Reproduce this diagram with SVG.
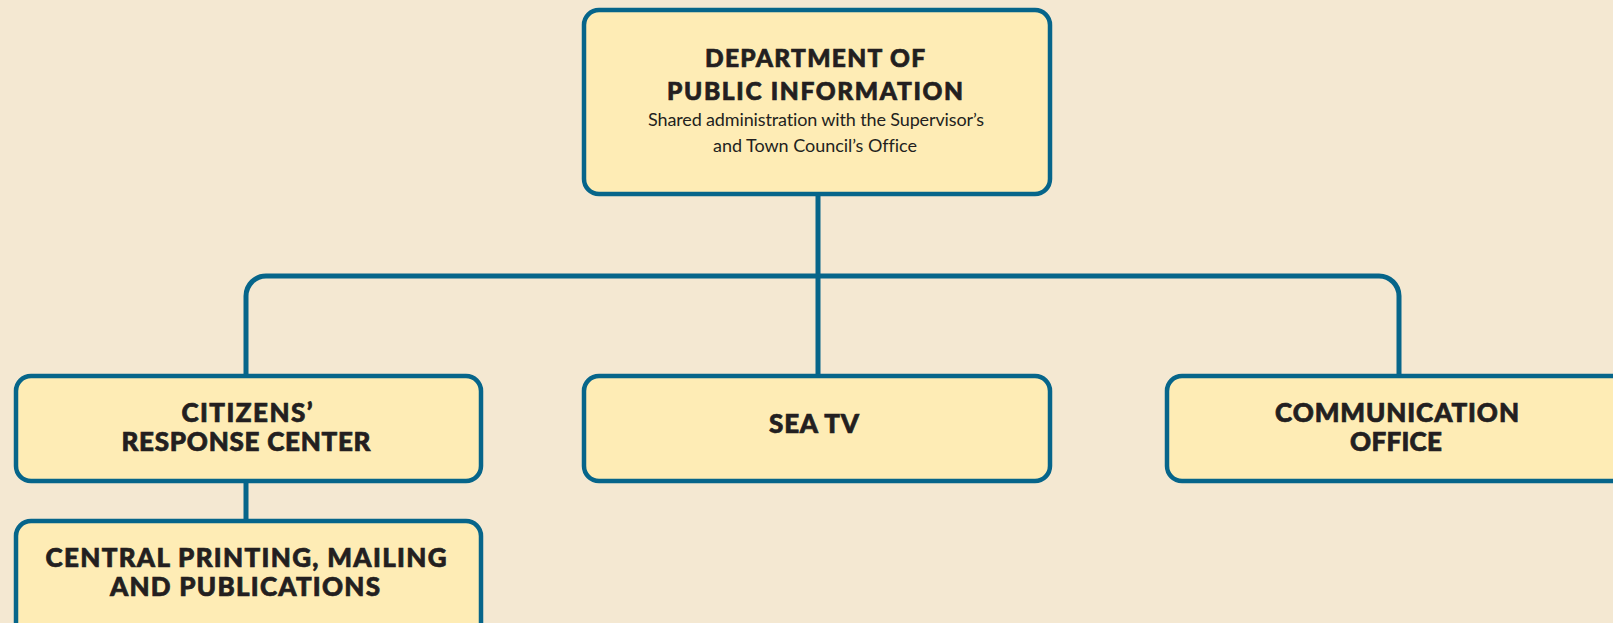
<svg xmlns="http://www.w3.org/2000/svg" width="1613" height="623" viewBox="0 0 1613 623">
  <style>
    .box { fill: #FEECB5; stroke: #06658A; stroke-width: 4.5; }
    .link { fill: none; stroke: #06658A; stroke-width: 5; }
    .title { font-family: Lato, "Liberation Sans", Arial, sans-serif; font-weight: 900; font-size: 26px; fill: #231F20; stroke: #231F20; stroke-width: 0.7; text-anchor: middle; font-variant-ligatures: none; }
    .top { font-size: 24.5px; }
    .sub { font-family: Lato, "Liberation Sans", Arial, sans-serif; font-size: 18px; fill: #231F20; text-anchor: middle; font-variant-ligatures: none; }
  </style>
  <rect width="1613" height="623" fill="#F4E8D2"/>

  <!-- connectors, drawn beneath the boxes -->
  <g id="connectors">
    <path class="link" d="M818,194 V374"/>
    <path class="link" d="M246,374 V296 A20,20 0 0 1 266,276 H1379 A20,20 0 0 1 1399,296 V374"/>
    <path class="link" d="M246,483 V519"/>
  </g>

  <g id="dept-public-information">
    <rect class="box" x="584" y="10" width="466" height="184" rx="15"/>
    <text class="title top" x="815" y="67" textLength="220">DEPARTMENT OF</text>
    <text class="title top" x="815" y="100" textLength="296">PUBLIC INFORMATION</text>
    <text class="sub" x="816" y="126" textLength="336">Shared administration with the Supervisor’s</text>
    <text class="sub" x="815" y="152" textLength="204">and Town Council’s Office</text>
  </g>

  <g id="citizens-response-center">
    <rect class="box" x="16" y="376" width="465" height="105" rx="15"/>
    <text class="title" x="247" y="422" textLength="131">CITIZENS’</text>
    <text class="title" x="246" y="451" textLength="249">RESPONSE CENTER</text>
  </g>

  <g id="sea-tv">
    <rect class="box" x="584" y="376" width="466" height="105" rx="15"/>
    <text class="title" x="814" y="433" textLength="90">SEA TV</text>
  </g>

  <g id="communication-office">
    <rect class="box" x="1167" y="376" width="466" height="105" rx="15"/>
    <text class="title" x="1397" y="422" textLength="244">COMMUNICATION</text>
    <text class="title" x="1396" y="451" textLength="92">OFFICE</text>
  </g>

  <g id="central-printing">
    <rect class="box" x="16" y="521" width="465" height="120" rx="15"/>
    <text class="title" x="246" y="567" textLength="401">CENTRAL PRINTING, MAILING</text>
    <text class="title" x="245" y="596" textLength="270">AND PUBLICATIONS</text>
  </g>
</svg>
